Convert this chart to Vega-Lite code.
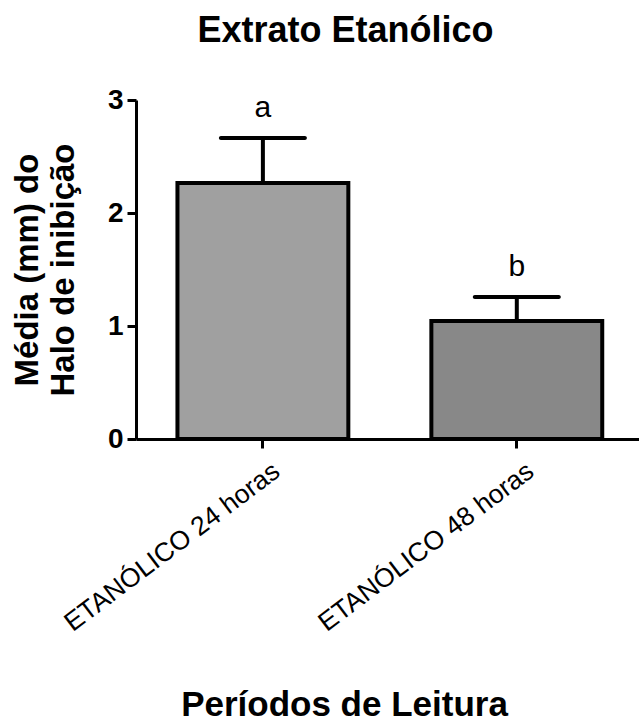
{
  "$schema": "https://vega.github.io/schema/vega-lite/v6.json",
  "width": 503,
  "height": 339,
  "autosize": {"type": "none"},
  "padding": {"left": 136, "top": 100, "right": 0, "bottom": 285},
  "background": "white",
  "config": {"font": "Liberation Sans", "view": {"stroke": null}},
  "title": {
    "text": "Extrato Etanólico",
    "fontSize": 36,
    "fontWeight": "bold",
    "color": "black",
    "anchor": "middle",
    "dx": -42,
    "offset": 8,
    "baseline": "alphabetic"
  },
  "data": {
    "values": [
      {"periodo": "ETANÓLICO 24 horas", "media": 2.265, "superior": 2.664, "letra": "a"},
      {"periodo": "ETANÓLICO 48 horas", "media": 1.044, "superior": 1.257, "letra": "b"}
    ]
  },
  "encoding": {
    "x": {
      "field": "periodo",
      "type": "nominal",
      "sort": null,
      "scale": {"paddingInner": 0.327, "paddingOuter": 0.154, "align": 0.53},
      "axis": {
        "title": "Períodos de Leitura",
        "titleFontSize": 35,
        "titleFontWeight": "bold",
        "titleColor": "black",
        "titleX": 208,
        "titleY": 276,
        "titleBaseline": "alphabetic",
        "titleAlign": "center",
        "labelAngle": -37,
        "labelAlign": "right",
        "labelBaseline": "middle",
        "labelFontSize": 26.5,
        "labelFontWeight": "normal",
        "labelColor": "black",
        "labelPadding": 20,
        "labelOffset": 14,
        "labelLimit": 400,
        "domainColor": "black",
        "domainWidth": 3,
        "tickColor": "black",
        "tickWidth": 3,
        "tickSize": 9
      }
    }
  },
  "layer": [
    {
      "mark": {"type": "bar", "stroke": "black", "strokeWidth": 4, "opacity": 1},
      "encoding": {
        "y": {
          "field": "media",
          "type": "quantitative",
          "scale": {"domain": [0, 3]},
          "axis": {
            "title": ["Média (mm) do", "Halo de inibição"],
            "values": [0, 1, 2, 3],
            "format": "d",
            "grid": false,
            "labelFontSize": 28,
            "labelFontWeight": "bold",
            "labelColor": "black",
            "labelPadding": 4,
            "domainColor": "black",
            "domainWidth": 3,
            "tickColor": "black",
            "tickWidth": 3,
            "tickSize": 9,
            "titleFontSize": 33,
            "titleFontWeight": "bold",
            "titleColor": "black",
            "titleLineHeight": 36,
            "titleAngle": -90,
            "titleX": -125,
            "titleY": 169.5,
            "titleBaseline": "top",
            "titleAlign": "center"
          }
        },
        "fill": {
          "field": "periodo",
          "type": "nominal",
          "sort": null,
          "scale": {"range": ["#a0a0a0", "#888888"]},
          "legend": null
        }
      }
    },
    {
      "mark": {"type": "rule", "strokeWidth": 4, "color": "black"},
      "encoding": {
        "y": {"field": "media", "type": "quantitative"},
        "y2": {"field": "superior"}
      }
    },
    {
      "mark": {"type": "tick", "thickness": 4, "size": 88, "color": "black", "opacity": 1, "cornerRadius": 2},
      "encoding": {
        "y": {"field": "superior", "type": "quantitative"}
      }
    },
    {
      "mark": {"type": "text", "fontSize": 30, "dy": -21, "baseline": "alphabetic", "color": "black"},
      "encoding": {
        "y": {"field": "superior", "type": "quantitative"},
        "text": {"field": "letra"}
      }
    }
  ]
}
